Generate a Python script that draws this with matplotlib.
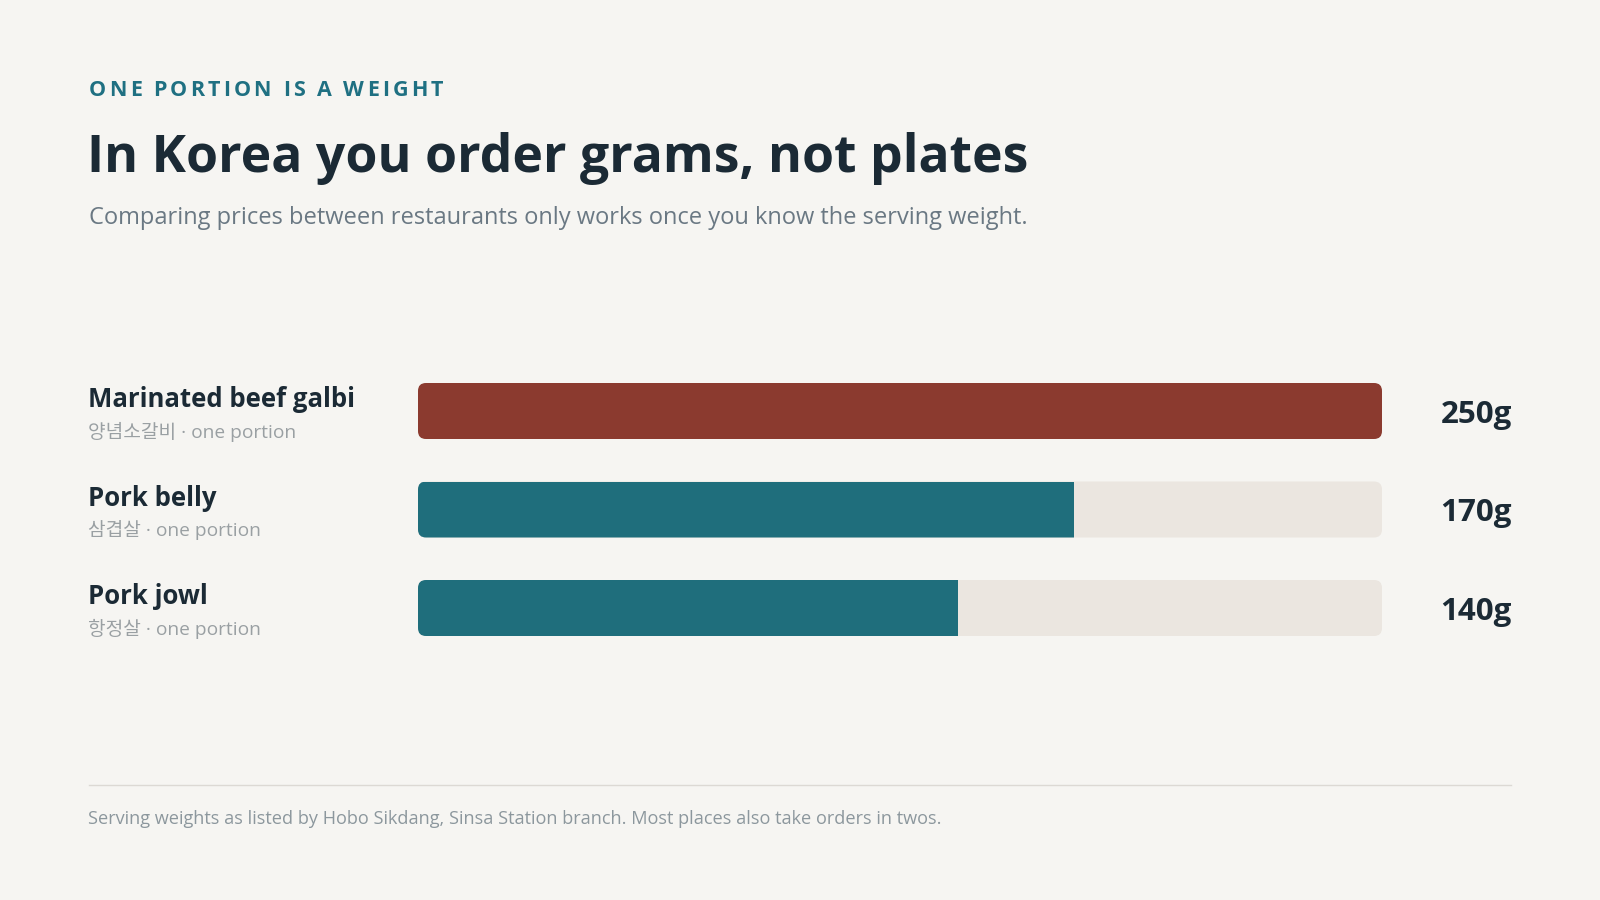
import matplotlib.pyplot as plt
from matplotlib.patches import FancyBboxPatch
from matplotlib.transforms import blended_transform_factory
from matplotlib.font_manager import FontProperties

# data
names = ["Marinated beef galbi", "Pork belly", "Pork jowl"]
korean = ["양념소갈비", "삼겹살", "항정살"]
weights = [250, 170, 140]
bar_colors = ["#8b3a2f", "#1f6e7c", "#1f6e7c"]

kicker = "ONE PORTION IS A WEIGHT"
title = "In Korea you order grams, not plates"
subtitle = "Comparing prices between restaurants only works once you know the serving weight."
footer = "Serving weights as listed by Hobo Sikdang, Sinsa Station branch. Most places also take orders in twos."

BG = "#f6f5f2"
TRACK = "#ebe6e0"
INK = "#1b2a35"
FONT = ["Open Sans", "Noto Sans CJK KR", "DejaVu Sans"]
plt.rcParams["font.family"] = FONT

W, H = 1600, 900
fig = plt.figure(figsize=(16, 9), dpi=100, facecolor=BG)
renderer = fig.canvas.get_renderer()


def fx(px):
    return px / W


def fy(py):
    return 1 - py / H


# kicker with letter spacing
kp = FontProperties(family=FONT, weight="bold", size=15.5)
def adv(ch):
    a = renderer.get_text_width_height_descent("|" + ch + "|", kp, ismath=False)[0]
    b = renderer.get_text_width_height_descent("||", kp, ismath=False)[0]
    return a - b

x = 89
for ch in kicker:
    fig.text(fx(x), fy(96), ch, fontproperties=kp, color="#1f7082", va="baseline")
    x += adv(ch) + 3.1

fig.text(fx(87), fy(172), title, fontsize=37.3, fontweight="bold", color=INK, va="baseline")
fig.text(fx(89), fy(224), subtitle, fontsize=17, color="#6a7883", va="baseline")

# bars
left, right = 418, 1382
top, bottom = 361.75, 657.25
ax = fig.add_axes([fx(left), fy(bottom), (right - left) / W, (bottom - top) / H])
ax.set_xlim(0, max(weights))
ax.set_ylim(len(weights) - 0.5, -0.5)
ax.axis("off")

xu = max(weights) / (right - left)
yu = len(weights) / (bottom - top)
h = 56 * yu
r = 8 * xu

for i, (w, c) in enumerate(zip(weights, bar_colors)):
    track = FancyBboxPatch((0, i - h / 2), max(weights), h,
                           boxstyle=f"round,pad=0,rounding_size={r}",
                           mutation_aspect=yu / xu, fc=TRACK, ec="none")
    ax.add_patch(track)
    bars = ax.barh(i, w, height=h, color=c)
    bars[0].set_clip_path(track)

tr = blended_transform_factory(fig.transFigure, ax.transData)
for i, (n, k, w) in enumerate(zip(names, korean, weights)):
    fig.text(fx(88), i - 4 * yu, n, transform=tr, fontsize=18.5, fontweight="bold",
             color=INK, va="baseline")
    fig.text(fx(88), i + 27 * yu, k + " · one portion", transform=tr, fontsize=13.8,
             color="#9aa0a3", va="baseline")
    fig.text(fx(1512), i + 12 * yu, f"{w}g", transform=tr, fontsize=22.6, fontweight="bold",
             color=INK, va="baseline", ha="right")

# footer
fig.add_artist(plt.Line2D([fx(89), fx(1511)], [fy(785), fy(785)], color="#dcd9d4", lw=1))
fig.text(fx(88), fy(824), footer, fontsize=13.05, color="#8c979d", va="baseline")

fig.savefig("out.png", dpi=100, facecolor=BG)
